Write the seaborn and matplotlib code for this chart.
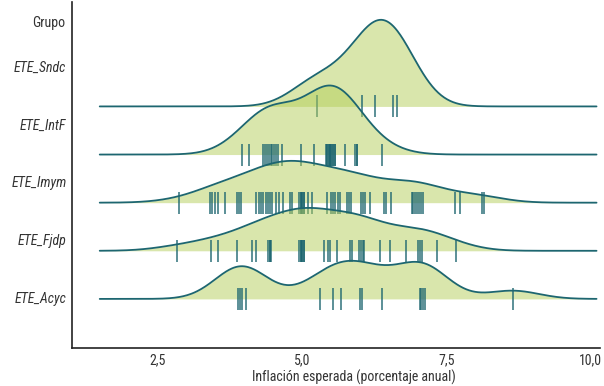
import numpy as np
import pandas as pd
import seaborn as sns
import matplotlib.pyplot as plt
from matplotlib.ticker import FuncFormatter

# Datos: expectativas de inflación por grupo
grupos = ["ETE_Acyc", "ETE_Fjdp", "ETE_Imym", "ETE_IntF", "ETE_Sndc"]

acyc = [3.90, 3.93, 3.96, 4.03, 5.31, 5.54, 5.67, 6.00, 6.04, 6.38,
        7.04, 7.07, 7.10, 7.13, 8.65]
fjdp = [2.84, 3.42, 3.54, 3.88, 4.13, 4.20, 4.41, 4.44, 4.44, 4.47,
        4.95, 4.98, 4.98, 5.01, 5.01, 5.04, 5.04, 5.38, 5.45, 5.49,
        5.61, 5.83, 5.87, 5.99, 6.02, 6.05, 6.08, 6.36, 6.52, 6.80,
        7.01, 7.05, 7.08, 7.33, 7.66]
imym = [2.87, 3.41, 3.44, 3.49, 3.55, 3.67, 3.88, 3.91, 3.94, 4.21,
        4.26, 4.29, 4.33, 4.37, 4.41, 4.45, 4.48, 4.55, 4.60, 4.67,
        4.79, 4.82, 4.95, 4.98, 4.98, 5.01, 5.01, 5.04, 5.04, 5.11,
        5.17, 5.44, 5.50, 5.54, 5.57, 5.63, 5.66, 5.78, 5.81, 5.85,
        6.02, 6.05, 6.09, 6.18, 6.42, 6.45, 6.54, 6.90, 6.92, 6.95,
        7.00, 7.03, 7.07, 7.10, 7.65, 7.73, 8.11, 8.15]
intf = [3.96, 4.09, 4.33, 4.36, 4.39, 4.43, 4.46, 4.49, 4.52, 4.55,
        4.59, 4.66, 4.99, 5.21, 5.41, 5.44, 5.44, 5.47, 5.47, 5.48,
        5.48, 5.51, 5.51, 5.54, 5.54, 5.58, 5.58, 5.74, 5.92, 5.95,
        5.96, 6.38]
sndc = [5.26, 6.04, 6.26, 6.57, 6.64]

valores = [acyc, fjdp, imym, intf, sndc]

df = pd.concat(
    [pd.DataFrame({"grupo": g, "inflacion": v}) for g, v in zip(grupos, valores)],
    ignore_index=True,
)

bw = 0.45  # ancho de banda común a todos los grupos
grilla = np.linspace(1.5, 10.1, 500)


def densidad(v):
    z = (grilla[None, :] - np.asarray(v)[:, None]) / bw
    return np.exp(-0.5 * z ** 2).sum(axis=0) / (len(v) * bw * np.sqrt(2 * np.pi))


dens = [densidad(df.loc[df["grupo"] == g, "inflacion"]) for g in grupos]
escala = 1.8 / max(d.max() for d in dens)

sns.set_style("white")
plt.rcParams["font.family"] = ["Roboto Condensed", "Liberation Sans Narrow",
                               "Liberation Sans", "DejaVu Sans"]

fig = plt.figure(figsize=(6.04, 3.86), dpi=100)
ax = fig.add_axes([72 / 604, 38 / 386, 528 / 604, 346 / 386])

linea = "#1d6670"
relleno = "#b5cf5a"

# de arriba hacia abajo, cada cresta se dibuja sobre la anterior
for i in reversed(range(len(grupos))):
    g = grupos[i]
    y = i + dens[i] * escala
    z = 10 - 2 * i
    ax.fill_between(grilla, i, y, color=relleno, alpha=0.5, lw=0, zorder=z)
    sns.lineplot(x=grilla, y=y, color=linea, linewidth=1.3, ax=ax, zorder=z + 1)
    pts = df[df["grupo"] == g]
    ax.scatter(pts["inflacion"], np.full(len(pts), i), marker="|", s=230,
               color=linea, alpha=0.85, linewidths=1.2, zorder=z + 1)

ax.set_xlim(1.02, 10.16)
ax.set_ylim(-1.02, 6.17)
ax.set_xticks([2.5, 5.0, 7.5, 10.0])
ax.xaxis.set_major_formatter(FuncFormatter(lambda v, p: f"{v:.1f}".replace(".", ",")))
ax.set_yticks([1.2 * i + 0.03 for i in range(len(grupos))])
ax.set_yticklabels(grupos, fontstyle="italic")

for s in ["top", "right"]:
    ax.spines[s].set_visible(False)
for s in ["left", "bottom"]:
    ax.spines[s].set_color("#222222")
    ax.spines[s].set_linewidth(1.2)

ax.tick_params(axis="both", direction="in", length=6, width=1.1, color="#222222",
               labelsize=10, labelcolor="#333333", pad=4)

ax.set_xlabel("Inflación esperada (porcentaje anual)", fontsize=10, color="#333333")
ax.xaxis.set_label_coords(0.534, -0.062)
ax.set_ylabel("Grupo", fontsize=10, color="#333333", rotation=0, ha="right", va="center")
ax.yaxis.set_label_coords(-0.012, 0.939)

fig.savefig("out.png", dpi=100)
